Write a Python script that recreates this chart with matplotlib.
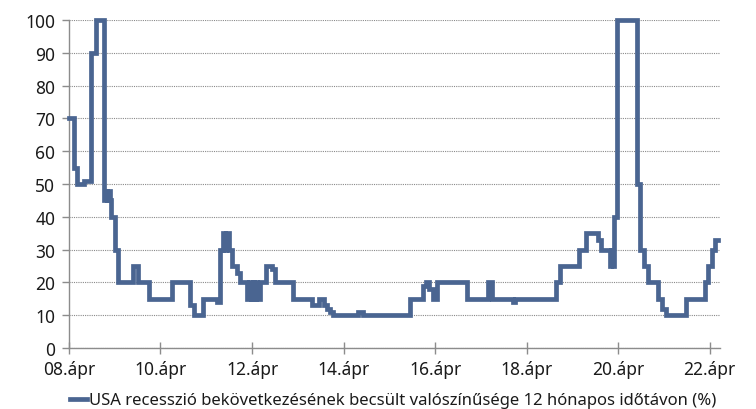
import matplotlib
matplotlib.use("Agg")
import matplotlib.pyplot as plt
import pandas as pd

# Recession probability (%) - value holds from each date until the next one
change_dates = [
    "2008-04-01", "2008-05-08", "2008-06-03", "2008-07-27", "2008-09-27", "2008-11-02",
    "2009-01-04", "2009-01-20", "2009-02-01", "2009-02-12", "2009-02-25", "2009-03-04",
    "2009-04-01", "2009-04-27", "2009-08-25", "2009-10-01", "2010-01-01", "2010-07-01",
    "2010-11-24", "2010-12-28", "2011-03-04", "2011-06-25", "2011-07-20", "2011-08-15",
    "2011-08-28", "2011-09-05", "2011-10-01", "2011-10-27", "2011-12-02", "2011-12-28",
    "2012-02-24", "2012-03-10", "2012-03-20", "2012-04-05", "2012-04-15", "2012-05-01",
    "2012-05-10", "2012-06-01", "2012-07-18", "2012-09-05", "2012-09-27", "2013-02-24",
    "2013-07-20", "2013-09-17", "2013-10-23", "2013-11-18", "2013-12-17", "2014-01-05",
    "2014-07-27", "2014-09-02", "2015-09-13", "2015-12-28", "2016-01-19", "2016-02-14",
    "2016-03-18", "2016-04-16", "2016-12-10", "2017-05-30", "2017-06-28", "2017-12-13",
    "2017-12-28", "2018-11-24", "2018-12-24", "2019-05-27", "2019-07-17", "2019-10-19",
    "2019-11-14", "2020-01-23", "2020-02-01", "2020-02-08", "2020-02-14", "2020-02-20",
    "2020-02-25", "2020-03-21", "2020-08-25", "2020-09-24", "2020-10-27", "2020-11-22",
    "2021-02-14", "2021-03-15", "2021-04-20", "2021-09-24", "2022-02-20", "2022-03-21",
    "2022-04-20", "2022-05-15", "2022-06-10",
]
probability = [
    70, 55, 50, 51, 90, 100,
    45, 48, 45, 48, 45, 40,
    30, 20, 25, 20, 15, 20,
    13, 10, 15, 14, 30, 35,
    30, 35, 30, 25, 23, 20,
    15, 20, 15, 20, 15, 20,
    15, 20, 25, 24, 20, 15,
    13, 15, 13, 12, 11, 10,
    11, 10, 15, 19, 20, 18,
    15, 20, 15, 20, 15, 14,
    15, 20, 25, 30, 35, 33,
    30, 25, 30, 25, 30, 25,
    40, 100, 50, 30, 25, 20,
    15, 12, 10, 15, 20, 25,
    30, 33, 33,
]
tick_years = [2008, 2010, 2012, 2014, 2016, 2018, 2020, 2022]
tick_labels = ["08.ápr", "10.ápr", "12.ápr", "14.ápr", "16.ápr", "18.ápr", "20.ápr", "22.ápr"]
series_label = "USA recesszió bekövetkezésének becsült valószínűsége 12 hónapos időtávon (%)"

LINE_COLOR = "#4a6591"
TEXT_COLOR = "#1a1a1a"
AXIS_COLOR = "#8c8c8c"
plt.rcParams["font.family"] = ["Noto Sans", "DejaVu Sans"]

dates = pd.to_datetime(change_dates)

fig = plt.figure(figsize=(7.56, 4.10), dpi=100)
ax = fig.add_axes([0.0913, 0.1488, 0.8607, 0.80])

ax.plot(dates, probability, drawstyle="steps-post", color=LINE_COLOR, lw=3.4,
        solid_joinstyle="miter", clip_on=False, label=series_label, zorder=3)

ax.set_ylim(0, 100)
ax.set_yticks(range(0, 101, 10))
ax.set_xlim(pd.Timestamp("2008-04-01"), pd.Timestamp("2022-06-20"))
ax.set_xticks([pd.Timestamp(f"{y}-04-01") for y in tick_years])
ax.set_xticklabels(tick_labels)

ax.yaxis.grid(True, color="#8a8a8a", linestyle=(0, (1, 1)), linewidth=0.8)
ax.set_axisbelow(True)
for side in ("top", "right"):
    ax.spines[side].set_visible(False)
for side in ("left", "bottom"):
    ax.spines[side].set_color(AXIS_COLOR)
    ax.spines[side].set_linewidth(1.0)

ax.tick_params(axis="x", direction="inout", length=9, width=1.0, color=AXIS_COLOR,
               labelsize=12.5, labelcolor=TEXT_COLOR, pad=4)
ax.tick_params(axis="y", direction="out", length=5, width=1.0, color=AXIS_COLOR,
               labelsize=12.5, labelcolor=TEXT_COLOR, pad=5)

fig.legend(loc="lower center", bbox_to_anchor=(0.52, -0.035), frameon=False,
           fontsize=12, handlelength=1.0, handletextpad=0.1, labelcolor=TEXT_COLOR)

fig.savefig("out.png", dpi=100)
